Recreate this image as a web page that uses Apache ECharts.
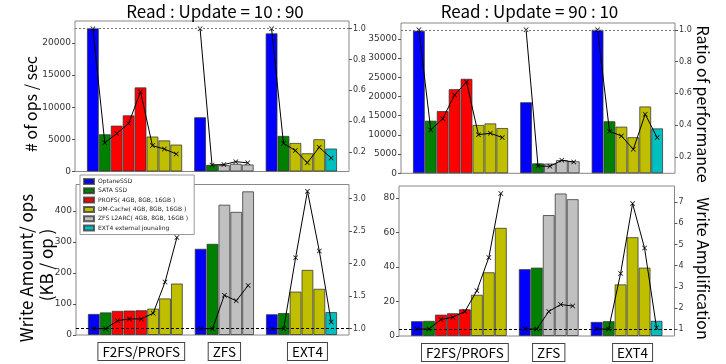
<!DOCTYPE html>
<html>
<head>
<meta charset="utf-8">
<script src="https://cdn.jsdelivr.net/npm/echarts@6/dist/echarts.min.js"></script>
<style>
  html, body { margin: 0; padding: 0; background: #fff; }
  #main { width: 726px; height: 364px; }
</style>
</head>
<body>
<div id="main"></div>
<script>
// device names (legend order)
const OPTANE = 'OptaneSSD';
const SATA = 'SATA SSD';
const PROFS = 'PROFS( 4GB, 8GB, 16GB )';
const DMC = 'DM-Cache( 4GB, 8GB, 16GB )';
const ZFS = 'ZFS L2ARC( 4GB, 8GB, 16GB )';
const EXT = 'EXT4 external jounaling';
const kindNames = [OPTANE, SATA, PROFS, DMC, ZFS, EXT];
const kindColors = ['#0000ff', '#008000', '#ff0000', '#bfbf00', '#c0c0c0', '#00bfbf'];

const groupNames = ['F2FS/PROFS', 'ZFS', 'EXT4'];
const groupKinds = [
  [OPTANE, SATA, PROFS, PROFS, PROFS, DMC, DMC, DMC],
  [OPTANE, SATA, ZFS, ZFS, ZFS],
  [OPTANE, SATA, DMC, DMC, DMC, EXT]
];

// Read : Update = 10 : 90
const opsA = [[22300, 5800, 7150, 8750, 13100, 5450, 4850, 4200], [8450, 1050, 1000, 1200, 1100], [21500, 5550, 4450, 2850, 5030, 3580]];
const perfA = [[1, 0.26, 0.319, 0.385, 0.59, 0.241, 0.219, 0.187], [1, 0.116, 0.118, 0.137, 0.129], [1, 0.256, 0.209, 0.129, 0.23, 0.161]];
const writeA = [[68, 73, 78, 79, 80, 85, 118, 166], [278, 294, 420, 397, 463], [67, 71, 140, 210, 149, 74]];
const ampA = [[1, 1, 1.123, 1.149, 1.149, 1.237, 1.715, 2.40], [1, 1, 1.514, 1.427, 1.663], [1, 1, 2.09, 3.113, 2.193, 1.103]];

// Read : Update = 90 : 10
const opsB = [[37100, 13700, 16200, 21900, 24600, 12600, 13000, 11800], [18500, 2600, 2550, 3450, 3150], [37350, 13550, 12150, 9400, 17400, 11700]];
const perfB = [[1, 0.37, 0.441, 0.59, 0.672, 0.34, 0.349, 0.322], [1, 0.143, 0.141, 0.179, 0.168], [1, 0.362, 0.332, 0.248, 0.469, 0.322]];
const writeB = [[8.6, 8.8, 12.4, 13.2, 15.5, 23.9, 36.9, 62.6], [38.7, 39.6, 70.0, 82.5, 79.2], [8.2, 8.6, 29.9, 57.2, 39.6, 8.8]];
const ampB = [[1, 1, 1.45, 1.56, 1.83, 2.81, 4.39, 7.42], [1, 1, 1.83, 2.16, 2.09], [1, 1, 3.63, 6.94, 4.83, 1.06]];

// tick labels
const ticksOpsA = [0, 5000, 10000, 15000, 20000];
const ticksOpsB = [0, 5000, 10000, 15000, 20000, 25000, 30000, 35000];
const ticksWriteA = [0, 100, 200, 300, 400];
const ticksWriteB = [0, 20, 40, 60, 80];
const ticksPerf = [0.2, 0.4, 0.6, 0.8, 1.0];
const ticksAmpA = [1.0, 1.5, 2.0, 2.5, 3.0];
const ticksAmpB = [1, 2, 3, 4, 5, 6, 7];

// slots on the x axis: one empty slot at each end and between groups
const slotStart = [];
let nSlots = 1;
groupKinds.forEach(k => { slotStart.push(nSlots); nSlots += k.length + 1; });
const slotNames = [];
for (let i = 0; i < nSlots; i++) slotNames.push('s' + i);
const labelAt = {5: groupNames[0], 12: groupNames[1], 19: groupNames[2]};

function barSlots(vals, kind) {
  const out = new Array(nSlots).fill('-');
  groupKinds.forEach((kinds, g) => kinds.forEach((k, i) => {
    if (k === kind) out[slotStart[g] + i] = vals[g][i];
  }));
  return out;
}
function lineSlots(vals) {
  const out = new Array(nSlots).fill('-');
  vals.forEach((v, g) => v.forEach((x, i) => { out[slotStart[g] + i] = x; }));
  return out;
}

const panels = [
  {bars: opsA, line: perfA, grid: {left: 75, top: 21, width: 274, height: 150.5}, yMax: 23420, yTicks: ticksOpsA,
    rMin: 0.073, rMax: 1.05, rTicks: ticksPerf, rDigits: 1, ref: {color: '#777', type: [2, 2]}, xLabels: false},
  {bars: opsB, line: perfB, grid: {left: 401, top: 23, width: 274, height: 150.3}, yMax: 39100, yTicks: ticksOpsB,
    rMin: 0.097, rMax: 1.043, rTicks: ticksPerf, rDigits: 1, ref: {color: '#777', type: [2, 2]}, xLabels: false},
  {bars: writeA, line: ampA, grid: {left: 76, top: 184.5, width: 273, height: 150.5}, yMax: 485, yTicks: ticksWriteA,
    rMin: 0.902, rMax: 3.216, rTicks: ticksAmpA, rDigits: 1, ref: {color: '#000', type: [3, 2]}, xLabels: true},
  {bars: writeB, line: ampB, grid: {left: 399, top: 186, width: 275.5, height: 150}, yMax: 86.8, yTicks: ticksWriteB,
    rMin: 0.67, rMax: 7.77, rTicks: ticksAmpB, rDigits: 0, ref: {color: '#000', type: [3, 2]}, xLabels: true}
];

const tickFont = {fontSize: 9, color: '#333', fontFamily: 'DejaVu Sans'};
const jpFont = 'Noto Sans CJK JP';
const xMark = 'path://M0,1L1,0L5,4L9,0L10,1L6,5L10,9L9,10L5,6L1,10L0,9L4,5Z';

const grid = [], xAxis = [], yAxis = [], series = [];
panels.forEach((p, i) => {
  grid.push(Object.assign({show: true, borderColor: '#888', borderWidth: 1, backgroundColor: 'transparent'}, p.grid));
  xAxis.push({
    type: 'category', gridIndex: i, data: slotNames, boundaryGap: true,
    axisLine: {show: false}, axisTick: {show: false}, splitLine: {show: false},
    axisLabel: {
      show: p.xLabels, margin: 8,
      interval: idx => labelAt[idx] !== undefined,
      formatter: v => labelAt[+v.slice(1)] || '',
      fontSize: 13.5, fontFamily: jpFont, color: '#000', lineHeight: 16,
      backgroundColor: '#fff', borderColor: '#444', borderWidth: 1, padding: [1, 4, 0, 4]
    }
  });
  yAxis.push({
    type: 'value', gridIndex: i, position: 'left', min: 0, max: p.yMax,
    axisLine: {show: false}, splitLine: {show: false},
    axisTick: {show: true, length: 3, lineStyle: {color: '#555'}, customValues: p.yTicks},
    axisLabel: Object.assign({margin: 4, customValues: p.yTicks, formatter: v => String(v)}, tickFont)
  });
  yAxis.push({
    type: 'value', gridIndex: i, position: 'right', min: p.rMin, max: p.rMax,
    axisLine: {show: false}, splitLine: {show: false},
    axisTick: {show: true, length: 3, lineStyle: {color: '#555'}, customValues: p.rTicks},
    axisLabel: Object.assign({margin: 4, customValues: p.rTicks, formatter: v => v.toFixed(p.rDigits)}, tickFont, {fontSize: 8})
  });
  kindNames.forEach((kind, k) => {
    series.push({
      type: 'bar', name: kind, xAxisIndex: i, yAxisIndex: 2 * i,
      data: barSlots(p.bars, kind), barGap: '-100%', barCategoryGap: '0%',
      itemStyle: {color: kindColors[k], borderColor: 'rgba(50,50,50,0.75)', borderWidth: 1},
      emphasis: {disabled: true}
    });
  });
  series.push({
    type: 'line', xAxisIndex: i, yAxisIndex: 2 * i + 1, z: 4,
    data: lineSlots(p.line), symbol: xMark, symbolSize: 5, showSymbol: true,
    lineStyle: {color: '#000', width: 1}, itemStyle: {color: '#000'},
    markLine: {
      silent: true, symbol: 'none', label: {show: false},
      lineStyle: {color: p.ref.color, type: p.ref.type, width: 1},
      data: [{yAxis: 1}]
    }
  });
});

function label(text, x, y, size, rot) {
  return {type: 'text', x: x, y: y, rotation: rot || 0, z: 20,
    style: {text: text, fontSize: size, fontFamily: jpFont, fill: '#000', align: 'center', verticalAlign: 'middle'}};
}

const chart = echarts.init(document.getElementById('main'));
chart.setOption({
  animation: false,
  grid: grid, xAxis: xAxis, yAxis: yAxis, series: series,
  legend: {
    data: kindNames, orient: 'vertical', left: 80, top: 175, z: 10,
    icon: 'rect', itemWidth: 10, itemHeight: 5, itemGap: 2.3,
    padding: [3, 6, 3, 3], backgroundColor: '#fff', borderColor: '#999', borderWidth: 1,
    textStyle: {fontSize: 6, color: '#222', fontFamily: 'DejaVu Sans', padding: [0, 0, 0, -1]}
  },
  graphic: [
    label('Read : Update = 10 : 90', 215, 11.5, 17),
    label('Read : Update = 90 : 10', 529.5, 12, 17),
    label('# of ops / sec', 31, 104, 16, Math.PI / 2),
    label('Write Amount/ ops', 27, 268, 17, Math.PI / 2),
    label('(KB / op )', 46.5, 265, 17, Math.PI / 2),
    label('Ratio of performance', 703, 104, 16, -Math.PI / 2),
    label('Write Amplification', 703, 268.5, 16, -Math.PI / 2)
  ]
});
</script>
</body>
</html>
